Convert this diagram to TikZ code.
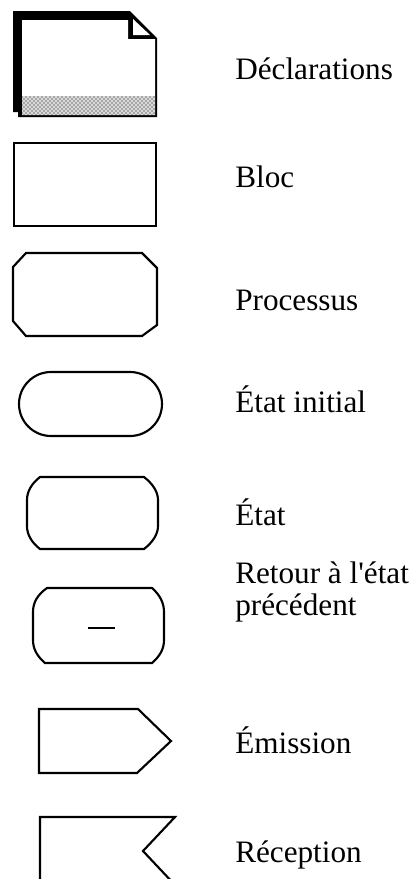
\documentclass[tikz,border=0pt]{standalone}
\usepackage{fontspec}
\setmainfont{Liberation Serif}[Ligatures=TeXOff]
\usetikzlibrary{patterns}
\begin{document}
\begin{tikzpicture}[x=0.75pt,y=-0.75pt,
  shapeline/.style={draw=black,line width=1.6pt,line join=miter},
  lbl/.style={anchor=base west,inner sep=0pt,font=\fontsize{23.4}{24}\selectfont,align=left}]
\useasboundingbox (0,0) rectangle (416,879);
\clip (0,0) rectangle (416,879);
% Declarations
\fill[black] (13,11) -- (130,11) -- (157,38) -- (157,117) -- (18,117) -- (18,112) -- (13,112) -- cycle;
\fill[white] (22,20) -- (128,20) -- (128,39) -- (155,39) -- (155,115) -- (22,115) -- cycle;
\fill[white] (133,19) -- (133,35) -- (150,35) -- cycle;
\fill[gray!30] (22,96) rectangle (155,115);
\fill[pattern=crosshatch dots, pattern color=black] (22,96) rectangle (155,115);
% Bloc
\draw[shapeline] (14,143) rectangle (156,226);
% Processus
\draw[shapeline] (26,253) -- (142,253) -- (157,268) -- (157,325) -- (142,336) -- (26,336) -- (13,321) -- (13,267) -- cycle;
% Etat initial
\draw[shapeline] (51,372) -- (130,372) arc[start angle=-90,end angle=90,radius=32] -- (51,436) arc[start angle=90,end angle=270,radius=32] -- cycle;
% Etat
\draw[shapeline] (40,477) -- (144,477) .. controls (153,484) and (158,492) .. (158,500) -- (158,526) .. controls (158,534) and (153,542) .. (144,549) -- (40,549) .. controls (31,542) and (27,534) .. (27,526) -- (27,500) .. controls (27,492) and (31,484) .. (40,477) -- cycle;
% Retour
\draw[shapeline] (47,588) -- (152,588) .. controls (160,595) and (164,603) .. (164,612) -- (164,640) .. controls (164,649) and (160,656) .. (152,663) -- (45,663) .. controls (37,656) and (33,649) .. (33,640) -- (33,612) .. controls (33,603) and (37,595) .. (47,588) -- cycle;
\draw[line width=2pt] (88,628) -- (115,628);
% Emission
\draw[shapeline] (39,709) -- (138,709) -- (171,741) -- (137,773) -- (39,773) -- cycle;
% Reception
\draw[shapeline] (40,890) -- (40,817) -- (175,817) -- (143,851) -- (175,885);
% labels
\node[lbl] (t1) at (235,79) {Déclarations};
\node[lbl] (t2) at (235,187) {Bloc};
\node[lbl] (t3) at (235,310) {Processus};
\node[lbl] (t4) at (235,412) {État initial};
\node[lbl] (t5) at (235,525) {État};
\node[lbl] (t6) at (235,615) {Retour à l'état\\précédent};
\node[lbl] (t7) at (235,753) {Émission};
\node[lbl] (t8) at (235,862) {Réception};
\end{tikzpicture}
\end{document}
